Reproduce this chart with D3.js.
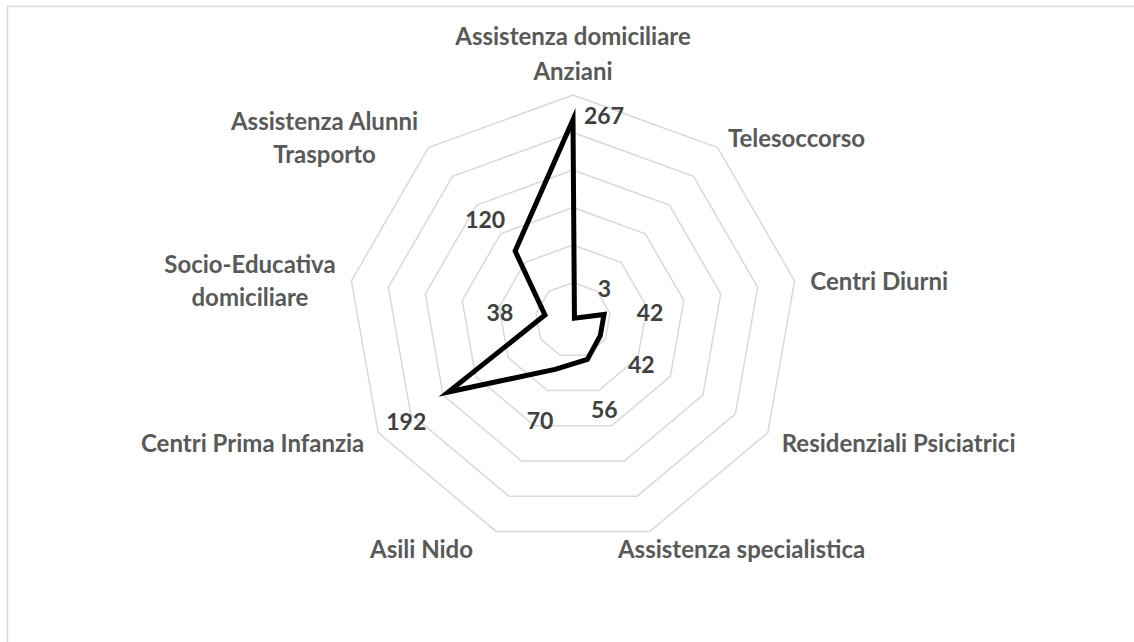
<!DOCTYPE html>
<html>
<head>
<meta charset="utf-8">
<script src="https://cdn.jsdelivr.net/npm/d3@7"></script>
<style>
  body { margin: 0; background: #fff; }
  svg { display: block; }
</style>
</head>
<body>
<svg id="chart"></svg>
<script>
// data
const categories = [
  'Assistenza domiciliare Anziani',
  'Telesoccorso',
  'Centri Diurni',
  'Residenziali Psiciatrici',
  'Assistenza specialistica',
  'Asili Nido',
  'Centri Prima Infanzia',
  'Socio-Educativa domiciliare',
  'Assistenza Alunni Trasporto'
];
const values = [267, 3, 42, 42, 56, 70, 192, 38, 120];
const ringTicks = [50, 100, 150, 200, 250, 300];

// where each value label sits relative to its point (px)
const labelOffsets = [[31, -4], [30, -30], [46, -1.5], [41, 29], [17, 50], [-15, 51], [-42, 30], [-45, -2], [-30, -31]];

const width = 1134, height = 642;
const cx = 573, cy = 320, R = 225;
const font = 'Lato, "Open Sans", sans-serif';

const svg = d3.select('#chart').attr('width', width).attr('height', height);

// chart area border (right / bottom run past the picture)
svg.append('rect')
  .attr('x', 7.5).attr('y', 6.5)
  .attr('width', 1140).attr('height', 650)
  .attr('fill', 'none')
  .attr('stroke', '#d9d9d9')
  .attr('stroke-width', 1.5);

const n = categories.length;
const angle = d3.scaleLinear().domain([0, n]).range([0, 2 * Math.PI]);
const r = d3.scaleLinear().domain([0, d3.max(ringTicks)]).range([0, R]);

const g = svg.append('g').attr('transform', `translate(${cx},${cy})`);

const radial = d3.lineRadial()
  .angle((d, i) => angle(i))
  .radius(d => r(d))
  .curve(d3.curveLinearClosed);

// gridline rings
g.selectAll('.ring')
  .data(ringTicks)
  .enter()
  .append('path')
  .attr('class', 'ring')
  .attr('d', t => radial(categories.map(() => t)))
  .attr('fill', 'none')
  .attr('stroke', '#d9d9d9')
  .attr('stroke-width', 1.5);

// series
g.append('path')
  .attr('d', radial(values))
  .attr('fill', 'none')
  .attr('stroke', '#000')
  .attr('stroke-width', 5)
  .attr('stroke-linejoin', 'miter')
  .attr('stroke-miterlimit', 10);

const pt = (v, i) => [r(v) * Math.sin(angle(i)), -r(v) * Math.cos(angle(i))];

// value labels
g.selectAll('.vlabel')
  .data(values)
  .enter()
  .append('text')
  .attr('class', 'vlabel')
  .attr('x', (d, i) => pt(d, i)[0] + labelOffsets[i][0])
  .attr('y', (d, i) => pt(d, i)[1] + labelOffsets[i][1])
  .attr('dy', '0.36em')
  .attr('text-anchor', 'middle')
  .style('font-family', font)
  .style('font-weight', 700)
  .style('font-size', '23px')
  .style('fill', '#404040')
  .text(d => d);

// category labels
const catSize = 24, lineH = 33, maxW = 270, cap = 8.5;
const measure = svg.append('text')
  .style('font-family', font).style('font-weight', 700).style('font-size', catSize + 'px');
const textW = s => { measure.text(s); return measure.node().getComputedTextLength(); };

function wrap(s) {
  const words = s.split(' ');
  const lines = [];
  let cur = '';
  words.forEach(w => {
    const t = cur ? cur + ' ' + w : w;
    if (cur && textW(t) > maxW) { lines.push(cur); cur = w; } else cur = t;
  });
  lines.push(cur);
  return lines;
}

categories.forEach((c, i) => {
  const lines = wrap(c);
  const w = d3.max(lines, textW);
  const a = angle(i), s = Math.sin(a), co = Math.cos(a);
  const vx = R * s, vy = -R * co;
  const ax = (R + 16) * s, ay = -(R + 16) * co;
  let mx, firstBase;
  if (Math.abs(s) < 0.01) {
    mx = ax;
    firstBase = ay + 1 - (lines.length - 1) * (lineH + 2);
  } else if (co < -0.9) {
    mx = s > 0 ? vx - 32 + w / 2 : vx - 23 - w / 2;
    firstBase = vy + 27;
  } else {
    mx = s > 0 ? ax + w / 2 : ax - w / 2;
    firstBase = ay + 3 - (lines.length - 1) * lineH / 2 + cap;
  }
  const lh = Math.abs(s) < 0.01 ? lineH + 2 : lineH;
  const t = g.append('text')
    .attr('text-anchor', 'middle')
    .style('font-family', font)
    .style('font-weight', 700)
    .style('font-size', catSize + 'px')
    .style('fill', '#595959');
  lines.forEach((l, k) => {
    t.append('tspan').attr('x', mx).attr('y', firstBase + k * lh).text(l);
  });
});
measure.remove();
</script>
</body>
</html>
